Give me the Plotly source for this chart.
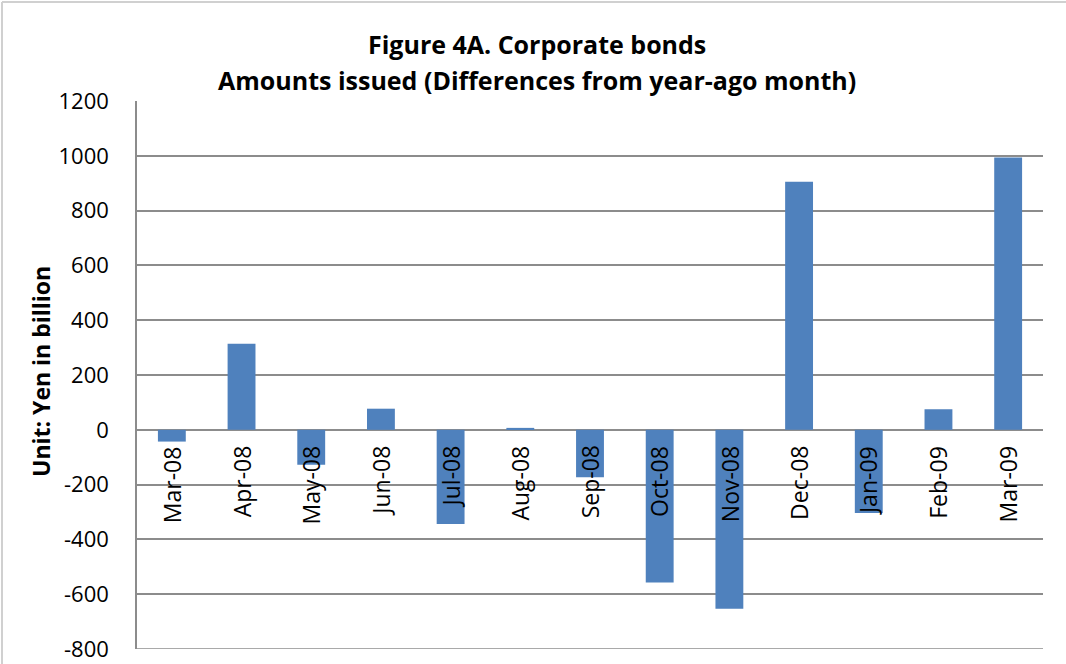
import plotly.graph_objects as go

categories = ["Mar-08", "Apr-08", "May-08", "Jun-08", "Jul-08", "Aug-08", "Sep-08",
              "Oct-08", "Nov-08", "Dec-08", "Jan-09", "Feb-09", "Mar-09"]
values = [-43, 314, -128, 77, -344, 7, -173, -557, -653, 905, -304, 75, 994]
y_ticks = [1200, 1000, 800, 600, 400, 200, 0, -200, -400, -600, -800]
title_lines = ["Figure 4A. Corporate bonds", "Amounts issued (Differences from year-ago month)"]
y_title = "Unit: Yen in billion"

W, H = 1066, 664
L, R, T, B = 137, 23, 101, 15
pw, ph = W - L - R, H - T - B

FONT = "Open Sans, Liberation Sans, sans-serif"
GRID = "#8c8c8c"


def px_to_paper_x(px):
    return (px - L) / pw


def px_to_paper_y(py):
    return (H - B - py) / ph


fig = go.Figure(go.Bar(
    x=categories, y=values,
    marker=dict(color="#4F81BD", line=dict(width=0)),
    width=0.4,
))

annotations = []
for c in categories:
    annotations.append(dict(
        x=c, y=0, xref="x", yref="y", text=c, showarrow=False,
        textangle=-90, yanchor="top", xanchor="center", yshift=-14,
        font=dict(family=FONT, size=23, color="#000000"),
    ))

for line, cy in zip(title_lines, [44, 80]):
    annotations.append(dict(
        x=px_to_paper_x(537), y=px_to_paper_y(cy), xref="paper", yref="paper",
        text="<b>" + line + "</b>", showarrow=False,
        xanchor="center", yanchor="middle",
        font=dict(family=FONT, size=25, color="#000000"),
    ))

annotations.append(dict(
    x=px_to_paper_x(41), y=px_to_paper_y(372), xref="paper", yref="paper",
    text="<b>" + y_title + "</b>", showarrow=False, textangle=-90,
    xanchor="center", yanchor="middle",
    font=dict(family=FONT, size=23, color="#000000"),
))

shapes = [
    dict(type="line", xref="paper", yref="paper",
         x0=px_to_paper_x(2), x1=px_to_paper_x(W + 5),
         y0=px_to_paper_y(2), y1=px_to_paper_y(2),
         line=dict(color="#d0d0d0", width=2)),
    dict(type="line", xref="paper", yref="paper",
         x0=px_to_paper_x(2), x1=px_to_paper_x(2),
         y0=px_to_paper_y(2), y1=px_to_paper_y(H + 5),
         line=dict(color="#d0d0d0", width=2)),
    dict(type="line", xref="paper", yref="y",
         x0=0, x1=1, y0=y_ticks[-1], y1=y_ticks[-1],
         line=dict(color=GRID, width=1.5), layer="below"),
]

fig.update_layout(
    width=W, height=H,
    margin=dict(l=L, r=R, t=T, b=B, pad=0, autoexpand=False),
    paper_bgcolor="white", plot_bgcolor="white",
    showlegend=False,
    xaxis=dict(
        showticklabels=False, showgrid=False, zeroline=False, automargin=False,
        showline=False, ticks="", range=[-0.5, len(categories) - 0.5],
    ),
    yaxis=dict(
        range=[-800, 1200], tickvals=y_ticks, ticktext=[str(v) for v in y_ticks],
        automargin=False,
        showgrid=True, gridcolor=GRID, gridwidth=1.5,
        zeroline=True, zerolinecolor=GRID, zerolinewidth=1.5,
        showline=True, linecolor=GRID, linewidth=1.5,
        ticks="outside", ticklen=0, ticklabelstandoff=22,
        tickfont=dict(family=FONT, size=22, color="#000000"),
    ),
    annotations=annotations,
    shapes=shapes,
)

fig.write_html("out.html")
